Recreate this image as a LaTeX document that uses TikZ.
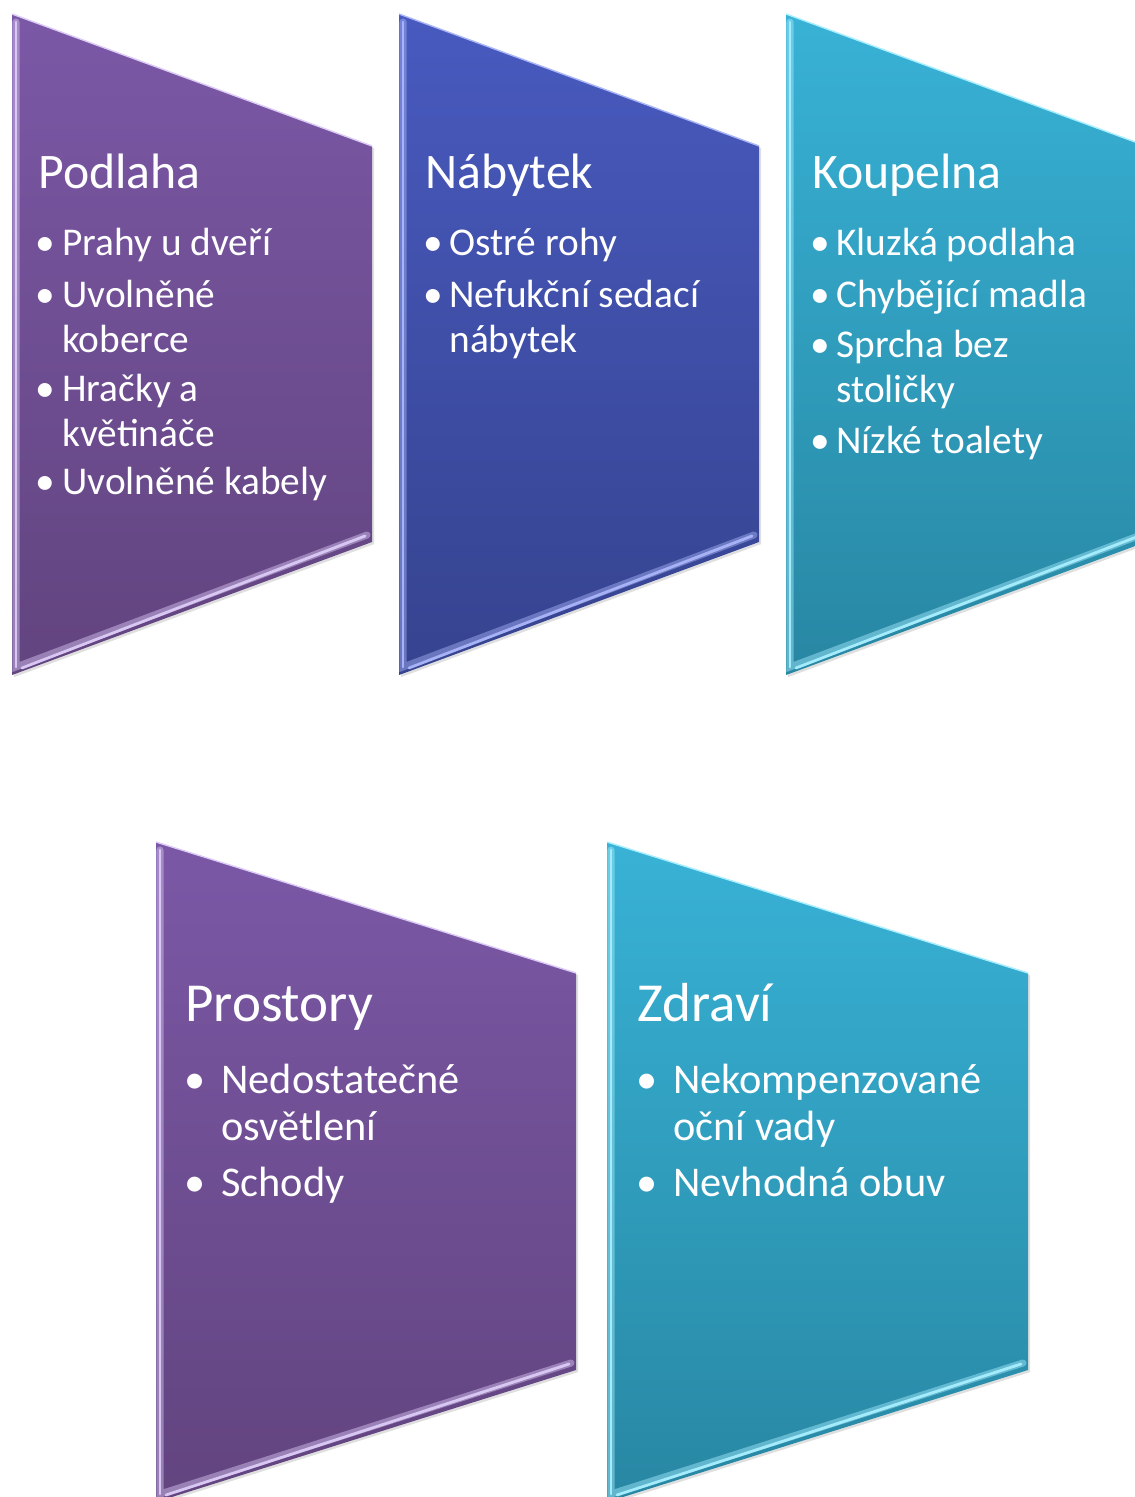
\documentclass[tikz,border=0pt]{standalone}
\usepackage{fontspec}
\setmainfont{Carlito}
\usetikzlibrary{calc,shadows}

\definecolor{fialova}{HTML}{7B58A6}
\definecolor{fialovaD}{HTML}{62447F}
\definecolor{fialovaL}{HTML}{DCCBF7}
\definecolor{modra}{HTML}{485ABF}
\definecolor{modraD}{HTML}{36438F}
\definecolor{modraL}{HTML}{AAB6F8}
\definecolor{tyrkys}{HTML}{38B2D6}
\definecolor{tyrkysD}{HTML}{2887A3}
\definecolor{tyrkysL}{HTML}{A8EEFF}

\tikzset{
  nadpis/.style={text=white, inner sep=0pt, anchor=base west, font=\fontsize{28.3}{34}\selectfont},
  polozka/.style={text=white, inner sep=0pt, anchor=base west, align=left, font=\fontsize{22.4}{25.6}\selectfont},
  tecka/.style={text=white, inner sep=0pt, anchor=base, font=\fontsize{22.4}{25.6}\selectfont},
  nadpisB/.style={nadpis, font=\fontsize{31.3}{38}\selectfont},
  polozkaB/.style={polozka, font=\fontsize{24.1}{26.7}\selectfont},
  teckaB/.style={tecka, font=\fontsize{24.1}{26.7}\selectfont},
  stin/.style={drop shadow={opacity=0.25, shadow xshift=1.2pt, shadow yshift=-1.2pt}},
  hrana/.style={line width=4, line cap=round, opacity=0.45},
  lesk/.style={line width=1.6, line cap=round, opacity=0.95},
}

\begin{document}
\begin{tikzpicture}[x=0.02cm, y=-0.02cm]
    \useasboundingbox (0,0) rectangle (1135,1497);
    \clip (0,0) rectangle (1135,1497);

    % Podlaha
    \coordinate (p1a) at (12,14);
    \coordinate (p1b) at (372,146);
    \coordinate (p1c) at (372,542);
    \coordinate (p1d) at (12,675);
    \path[stin, top color=fialova, bottom color=fialovaD] (p1a) -- (p1b) -- (p1c) -- (p1d) -- cycle;
    \draw[fialovaL, line width=0.8] (p1a) -- (p1b);
    \draw[hrana, fialovaL] ($(p1a)+(4,8)$) -- ($(p1d)+(4,-8)$) -- ($(p1c)+(-5,-7)$);
    \draw[lesk, fialovaL] ($(p1a)+(4,8)$) -- ($(p1d)+(4,-8)$);
    \draw[lesk, fialovaL] ($(p1d)+(10,-7)$) -- ($(p1c)+(-7,-6)$);

    % Nabytek
    \coordinate (p2a) at (399,14);
    \coordinate (p2b) at (759,146);
    \coordinate (p2c) at (759,542);
    \coordinate (p2d) at (399,675);
    \path[stin, top color=modra, bottom color=modraD] (p2a) -- (p2b) -- (p2c) -- (p2d) -- cycle;
    \draw[modraL, line width=0.8] (p2a) -- (p2b);
    \draw[hrana, modraL] ($(p2a)+(4,8)$) -- ($(p2d)+(4,-8)$) -- ($(p2c)+(-5,-7)$);
    \draw[lesk, modraL] ($(p2a)+(4,8)$) -- ($(p2d)+(4,-8)$);
    \draw[lesk, modraL] ($(p2d)+(10,-7)$) -- ($(p2c)+(-7,-6)$);

    % Koupelna
    \coordinate (p3a) at (786,14);
    \coordinate (p3b) at (1146,146);
    \coordinate (p3c) at (1146,542);
    \coordinate (p3d) at (786,675);
    \path[stin, top color=tyrkys, bottom color=tyrkysD] (p3a) -- (p3b) -- (p3c) -- (p3d) -- cycle;
    \draw[tyrkysL, line width=0.8] (p3a) -- (p3b);
    \draw[hrana, tyrkysL] ($(p3a)+(4,8)$) -- ($(p3d)+(4,-8)$) -- ($(p3c)+(-5,-7)$);
    \draw[lesk, tyrkysL] ($(p3a)+(4,8)$) -- ($(p3d)+(4,-8)$);
    \draw[lesk, tyrkysL] ($(p3d)+(10,-7)$) -- ($(p3c)+(-7,-6)$);

    % Prostory
    \coordinate (p4a) at (156,842);
    \coordinate (p4b) at (576,973);
    \coordinate (p4c) at (576,1370);
    \coordinate (p4d) at (156,1502);
    \path[stin, top color=fialova, bottom color=fialovaD] (p4a) -- (p4b) -- (p4c) -- (p4d) -- cycle;
    \draw[fialovaL, line width=0.8] (p4a) -- (p4b);
    \draw[hrana, fialovaL] ($(p4a)+(4,8)$) -- ($(p4d)+(4,-8)$) -- ($(p4c)+(-5,-7)$);
    \draw[lesk, fialovaL] ($(p4a)+(4,8)$) -- ($(p4d)+(4,-8)$);
    \draw[lesk, fialovaL] ($(p4d)+(10,-7)$) -- ($(p4c)+(-7,-6)$);

    % Zdravi
    \coordinate (p5a) at (607,842);
    \coordinate (p5b) at (1028,973);
    \coordinate (p5c) at (1028,1370);
    \coordinate (p5d) at (607,1502);
    \path[stin, top color=tyrkys, bottom color=tyrkysD] (p5a) -- (p5b) -- (p5c) -- (p5d) -- cycle;
    \draw[tyrkysL, line width=0.8] (p5a) -- (p5b);
    \draw[hrana, tyrkysL] ($(p5a)+(4,8)$) -- ($(p5d)+(4,-8)$) -- ($(p5c)+(-5,-7)$);
    \draw[lesk, tyrkysL] ($(p5a)+(4,8)$) -- ($(p5d)+(4,-8)$);
    \draw[lesk, tyrkysL] ($(p5d)+(10,-7)$) -- ($(p5c)+(-7,-6)$);

    % texty (u viceradkovych polozek je base na poslednim radku)
    \node[nadpis] (podlaha) at (38,188) {Podlaha};
    \node[tecka] (t11) at (45,255) {•};
    \node[polozka] (i11) at (62,255) {Prahy u dveří};
    \node[tecka] (t12) at (45,307) {•};
    \node[polozka] (i12) at (62,352) {Uvolněné\\koberce};
    \node[tecka] (t13) at (45,401) {•};
    \node[polozka] (i13) at (62,446) {Hračky a\\květináče};
    \node[tecka] (t14) at (45,494) {•};
    \node[polozka] (i14) at (62,494) {Uvolněné kabely};

    \node[nadpis] (nabytek) at (425,188) {Nábytek};
    \node[tecka] (t21) at (433,255) {•};
    \node[polozka] (i21) at (449,255) {Ostré rohy};
    \node[tecka] (t22) at (433,307) {•};
    \node[polozka] (i22) at (449,352) {Nefukční sedací\\nábytek};

    \node[nadpis] (koupelna) at (812,188) {Koupelna};
    \node[tecka] (t31) at (820,255) {•};
    \node[polozka] (i31) at (836,255) {Kluzká podlaha};
    \node[tecka] (t32) at (820,307) {•};
    \node[polozka] (i32) at (836,307) {Chybějící madla};
    \node[tecka] (t33) at (820,357) {•};
    \node[polozka] (i33) at (836,402) {Sprcha bez\\stoličky};
    \node[tecka] (t34) at (820,453) {•};
    \node[polozka] (i34) at (836,453) {Nízké toalety};

    \node[nadpisB] (prostory) at (185,1021) {Prostory};
    \node[teckaB] (t41) at (195,1093) {•};
    \node[polozkaB] (i41) at (221,1140) {Nedostatečné\\osvětlení};
    \node[teckaB] (t42) at (195,1196) {•};
    \node[polozkaB] (i42) at (221,1196) {Schody};

    \node[nadpisB] (zdravi) at (637,1021) {Zdraví};
    \node[teckaB] (t51) at (647,1093) {•};
    \node[polozkaB] (i51) at (673,1140) {Nekompenzované\\oční vady};
    \node[teckaB] (t52) at (647,1196) {•};
    \node[polozkaB] (i52) at (673,1196) {Nevhodná obuv};
\end{tikzpicture}
\end{document}
